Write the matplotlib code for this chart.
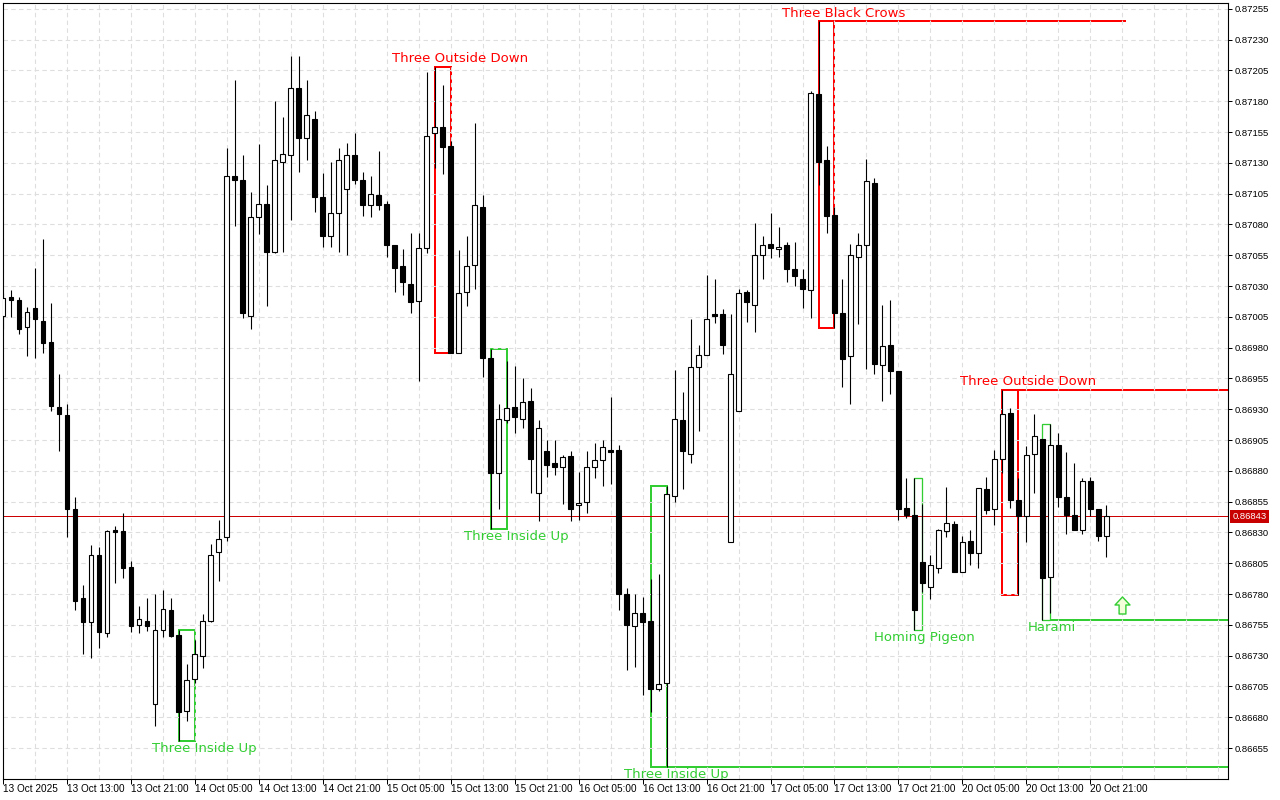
import numpy as np
import matplotlib
matplotlib.use('Agg')
import matplotlib.pyplot as plt
from matplotlib.patches import Rectangle
from matplotlib.path import Path
from matplotlib.markers import MarkerStyle

# EURGBP H1 candles, 13 Oct 05:00 .. 20 Oct 23:00
opens = [0.87006, 0.87021, 0.87019, 0.86997, 0.87012, 0.87002, 0.86985, 0.86932, 0.86925, 0.86849,
         0.86777, 0.86757, 0.86812, 0.86748, 0.86832, 0.86831, 0.86802, 0.86755, 0.86758, 0.86691,
         0.86751, 0.86767, 0.86747, 0.86685, 0.86711, 0.86730, 0.86758, 0.86814, 0.86826, 0.87119,
         0.87116, 0.87006, 0.87086, 0.87097, 0.87058, 0.87131, 0.87136, 0.87191, 0.87150, 0.87166,
         0.87102, 0.87071, 0.87089, 0.87109, 0.87136, 0.87116, 0.87096, 0.87104, 0.87097, 0.87063,
         0.87046, 0.87032, 0.87018, 0.87061, 0.87154, 0.87159, 0.87144, 0.86976, 0.87025, 0.87047,
         0.87094, 0.86972, 0.86878, 0.86921, 0.86932, 0.86922, 0.86937, 0.86862, 0.86896, 0.86886,
         0.86883, 0.86892, 0.86852, 0.86855, 0.86883, 0.86889, 0.86897, 0.86897, 0.86780, 0.86754,
         0.86765, 0.86758, 0.86703, 0.86708, 0.86860, 0.86921, 0.86894, 0.86964, 0.86974, 0.87007,
         0.87007, 0.86822, 0.86929, 0.87025, 0.87015, 0.87055, 0.87064, 0.87060, 0.87063, 0.87044,
         0.87036, 0.87027, 0.87186, 0.87132, 0.87088, 0.87008, 0.86973, 0.87054, 0.87063, 0.87114,
         0.86966, 0.86982, 0.86961, 0.86850, 0.86844, 0.86806, 0.86786, 0.86801, 0.86831, 0.86837,
         0.86798, 0.86823, 0.86813, 0.86865, 0.86849, 0.86890, 0.86927, 0.86856, 0.86843, 0.86894,
         0.86906, 0.86794, 0.86901, 0.86859, 0.86844, 0.86832, 0.86872, 0.86849, 0.86827]
highs = [0.87024, 0.87027, 0.87021, 0.87013, 0.87045, 0.87068, 0.87016, 0.86959, 0.86934, 0.86859,
         0.86787, 0.86820, 0.86818, 0.86832, 0.86835, 0.86846, 0.86807, 0.86770, 0.86777, 0.86780,
         0.86783, 0.86777, 0.86751, 0.86723, 0.86743, 0.86764, 0.86821, 0.86840, 0.87142, 0.87197,
         0.87136, 0.87106, 0.87145, 0.87112, 0.87180, 0.87167, 0.87217, 0.87217, 0.87197, 0.87172,
         0.87122, 0.87131, 0.87142, 0.87146, 0.87154, 0.87123, 0.87119, 0.87140, 0.87099, 0.87063,
         0.87060, 0.87073, 0.87073, 0.87204, 0.87208, 0.87193, 0.87148, 0.87059, 0.87071, 0.87162,
         0.87104, 0.86979, 0.86934, 0.86969, 0.86965, 0.86955, 0.86947, 0.86921, 0.86905, 0.86905,
         0.86893, 0.86896, 0.86879, 0.86896, 0.86903, 0.86905, 0.86940, 0.86901, 0.86785, 0.86780,
         0.86778, 0.86792, 0.86796, 0.86868, 0.86962, 0.86944, 0.87003, 0.86982, 0.87039, 0.87036,
         0.87011, 0.87007, 0.87028, 0.87027, 0.87081, 0.87071, 0.87089, 0.87078, 0.87066, 0.87066,
         0.87044, 0.87188, 0.87245, 0.87144, 0.87094, 0.87036, 0.87064, 0.87073, 0.87133, 0.87118,
         0.87015, 0.87019, 0.86961, 0.86874, 0.86874, 0.86853, 0.86812, 0.86833, 0.86867, 0.86839,
         0.86827, 0.86832, 0.86866, 0.86875, 0.86897, 0.86946, 0.86931, 0.86874, 0.86900, 0.86926,
         0.86906, 0.86918, 0.86911, 0.86895, 0.86886, 0.86874, 0.86875, 0.86849, 0.86852]
lows = [0.86995, 0.87005, 0.86991, 0.86973, 0.86972, 0.86976, 0.86929, 0.86896, 0.86826, 0.86767,
        0.86731, 0.86728, 0.86736, 0.86745, 0.86789, 0.86793, 0.86749, 0.86748, 0.86750, 0.86673,
        0.86745, 0.86745, 0.86661, 0.86677, 0.86708, 0.86720, 0.86757, 0.86791, 0.86823, 0.87079,
        0.87004, 0.86995, 0.87072, 0.87014, 0.87057, 0.87058, 0.87084, 0.87123, 0.87132, 0.87090,
        0.87062, 0.87062, 0.87058, 0.87055, 0.87113, 0.87087, 0.87086, 0.87092, 0.87054, 0.87025,
        0.87023, 0.87008, 0.86953, 0.87057, 0.87126, 0.87121, 0.86976, 0.86976, 0.87014, 0.87028,
        0.86956, 0.86833, 0.86849, 0.86919, 0.86911, 0.86915, 0.86862, 0.86839, 0.86875, 0.86877,
        0.86853, 0.86839, 0.86840, 0.86846, 0.86874, 0.86868, 0.86869, 0.86767, 0.86718, 0.86721,
        0.86698, 0.86684, 0.86701, 0.86640, 0.86855, 0.86865, 0.86886, 0.86912, 0.86974, 0.87000,
        0.86975, 0.86822, 0.86929, 0.87001, 0.86993, 0.87036, 0.87053, 0.87054, 0.87033, 0.87030,
        0.87012, 0.87004, 0.87112, 0.87073, 0.86996, 0.86948, 0.86934, 0.86999, 0.86963, 0.86959,
        0.86937, 0.86942, 0.86840, 0.86842, 0.86751, 0.86782, 0.86776, 0.86797, 0.86826, 0.86798,
        0.86798, 0.86804, 0.86801, 0.86845, 0.86836, 0.86878, 0.86850, 0.86779, 0.86822, 0.86862,
        0.86759, 0.86765, 0.86851, 0.86829, 0.86832, 0.86829, 0.86843, 0.86823, 0.86810]
closes = [0.87020, 0.87019, 0.86995, 0.87009, 0.87003, 0.86984, 0.86933, 0.86926, 0.86849, 0.86774,
          0.86757, 0.86812, 0.86749, 0.86831, 0.86830, 0.86801, 0.86754, 0.86760, 0.86754, 0.86751,
          0.86768, 0.86746, 0.86684, 0.86710, 0.86731, 0.86758, 0.86812, 0.86825, 0.87119, 0.87116,
          0.87008, 0.87086, 0.87097, 0.87058, 0.87132, 0.87137, 0.87191, 0.87150, 0.87169, 0.87102,
          0.87071, 0.87089, 0.87132, 0.87136, 0.87116, 0.87096, 0.87105, 0.87096, 0.87063, 0.87045,
          0.87033, 0.87017, 0.87061, 0.87152, 0.87159, 0.87143, 0.86976, 0.87024, 0.87046, 0.87096,
          0.86972, 0.86878, 0.86922, 0.86931, 0.86924, 0.86936, 0.86890, 0.86915, 0.86885, 0.86883,
          0.86891, 0.86849, 0.86854, 0.86883, 0.86889, 0.86899, 0.86895, 0.86780, 0.86755, 0.86765,
          0.86757, 0.86703, 0.86707, 0.86861, 0.86922, 0.86896, 0.86964, 0.86974, 0.87003, 0.87006,
          0.86982, 0.86959, 0.87024, 0.87017, 0.87055, 0.87063, 0.87061, 0.87062, 0.87044, 0.87038,
          0.87028, 0.87187, 0.87131, 0.87087, 0.87008, 0.86971, 0.87055, 0.87063, 0.87115, 0.86967,
          0.86981, 0.86961, 0.86849, 0.86844, 0.86767, 0.86789, 0.86804, 0.86832, 0.86838, 0.86798,
          0.86822, 0.86813, 0.86866, 0.86848, 0.86890, 0.86926, 0.86856, 0.86843, 0.86893, 0.86908,
          0.86793, 0.86901, 0.86859, 0.86844, 0.86832, 0.86872, 0.86849, 0.86827, 0.86843]

date_labels = ['13 Oct 2025', '13 Oct 13:00', '13 Oct 21:00', '14 Oct 05:00', '14 Oct 13:00',
               '14 Oct 21:00', '15 Oct 05:00', '15 Oct 13:00', '15 Oct 21:00', '16 Oct 05:00',
               '16 Oct 13:00', '16 Oct 21:00', '17 Oct 05:00', '17 Oct 13:00', '17 Oct 21:00',
               '20 Oct 05:00', '20 Oct 13:00', '20 Oct 21:00']

# candlestick patterns: first bar, last bar, bullish?
pat_names = ['Three Inside Up', 'Three Outside Down', 'Three Inside Up', 'Three Inside Up',
             'Three Black Crows', 'Homing Pigeon', 'Three Outside Down', 'Harami']
pat_start = [22, 54, 61, 81, 102, 114, 125, 130]
pat_end = [24, 56, 63, 83, 104, 115, 127, 131]
pat_bull = [True, False, True, True, False, True, False, True]

# support / resistance lines drawn from a pattern (pattern no., last bar or None = to the edge)
lvl_pattern = [3, 4, 6, 7]
lvl_until = [None, 140.5, None, None]

# buy signal arrow
signal_bar = 140
signal_price = 0.86771

# ---------------------------------------------------------------
RED = '#ff0000'
GREEN = '#32cd32'
PX = 0.72  # one pixel in points

fig = plt.figure(figsize=(12.8, 8), dpi=100)
ax = fig.add_axes([3 / 1280, 21.5 / 800, 1224.7 / 1280, 775.9 / 800])
ax.set_xlim(0.0875, 153.18)
ax.set_ylim(0.866303, 0.872601)
ax.set_axisbelow(True)

o = np.array(opens)
h = np.array(highs)
l = np.array(lows)
c = np.array(closes)
x = np.arange(len(o))
up = c >= o

ax.vlines(x, l, h, color='black', lw=PX * 1.1, zorder=3)
ax.bar(x[up], np.abs(c - o)[up], 0.6, bottom=np.minimum(o, c)[up],
       facecolor='white', edgecolor='black', lw=PX * 1.1, zorder=4)
ax.bar(x[~up], np.abs(c - o)[~up], 0.6, bottom=np.minimum(o, c)[~up],
       facecolor='black', edgecolor='black', lw=PX * 1.1, zorder=4)

# pattern boxes + labels
label_dx = [2.2, 2.2, 2.2, 2.2, 2.2, 0.7, 2.2, 0.7]
for k, (name, s, e, bull) in enumerate(zip(pat_names, pat_start, pat_end, pat_bull)):
    top = max(highs[s:e + 1])
    bot = min(lows[s:e + 1])
    col = GREEN if bull else RED
    lw = 2 * PX if e - s == 2 else 1.3 * PX
    ax.add_patch(Rectangle((s, bot), e - s, top - bot, fill=False, edgecolor=col,
                           lw=lw, zorder=0.3, joinstyle='miter'))
    cx = (s + e) / 2 + label_dx[k]
    if bull:
        ax.annotate(name, (cx, bot), xytext=(0, -5.8), textcoords='offset points',
                    ha='center', va='center', color=col, fontsize=9.5, clip_on=True,
                    zorder=6)
    else:
        ax.annotate(name, (cx, top), xytext=(0, 5.8), textcoords='offset points',
                    ha='center', va='center', color=col, fontsize=9.5, clip_on=True,
                    zorder=6)

for p, until in zip(lvl_pattern, lvl_until):
    s, e = pat_start[p], pat_end[p]
    col = GREEN if pat_bull[p] else RED
    lvl = min(lows[s:e + 1]) if pat_bull[p] else max(highs[s:e + 1])
    x1 = until if until is not None else ax.get_xlim()[1]
    ax.hlines(lvl, e, x1, color=col, lw=2 * PX, zorder=0.3)

# current price line + tag
last = closes[-1]
ax.axhline(last, color='#cc0000', lw=PX, zorder=2)
ax.annotate(f'{last:.5f}', xy=(1, last), xycoords=('axes fraction', 'data'),
            xytext=(3.6, 0), textcoords='offset points', ha='left', va='center',
            color='white', fontsize=6.8, family='Liberation Sans', annotation_clip=False,
            bbox=dict(boxstyle='square,pad=0.25', fc='#c80000', ec='none'))

# up arrow signal
arrow = Path([(0, 0.5), (0.44, 0.03), (0.2, 0.03), (0.2, -0.5), (-0.2, -0.5),
              (-0.2, 0.03), (-0.44, 0.03), (0, 0.5)], closed=True)
ax.scatter([signal_bar], [signal_price], marker=MarkerStyle(arrow), s=150,
           facecolor='#f2ffd9', edgecolor=GREEN, lw=1.0, zorder=6)

# axes, ticks, grid
yt = np.round(0.86655 + 0.00025 * np.arange(25), 5)
ax.yaxis.tick_right()
ax.set_yticks(yt)
ax.set_yticklabels([f'{v:.5f}' for v in yt], family='Liberation Sans', fontsize=6.8)
ax.set_xticks(np.arange(0, len(date_labels) * 8, 8))
ax.set_xticks(np.arange(4, 154, 4), minor=True)
ax.set_xticklabels(date_labels, ha='left', fontsize=7.2, family='Liberation Sans')
ax.tick_params(axis='y', which='major', direction='out', length=3, width=PX, pad=1.8)
ax.tick_params(axis='x', which='major', direction='out', length=3.6, width=PX, pad=0.5)
ax.tick_params(axis='x', which='minor', length=0)
ax.grid(True, axis='x', which='both', color='#dedede', lw=0.8, linestyle=(0, (4, 3)))
ax.grid(True, axis='y', which='major', color='#dedede', lw=0.8, linestyle=(0, (4, 3)))
for sp in ax.spines.values():
    sp.set_linewidth(PX * 1.1)
    sp.set_color('black')

fig.savefig('out.png', dpi=100, facecolor='white')
